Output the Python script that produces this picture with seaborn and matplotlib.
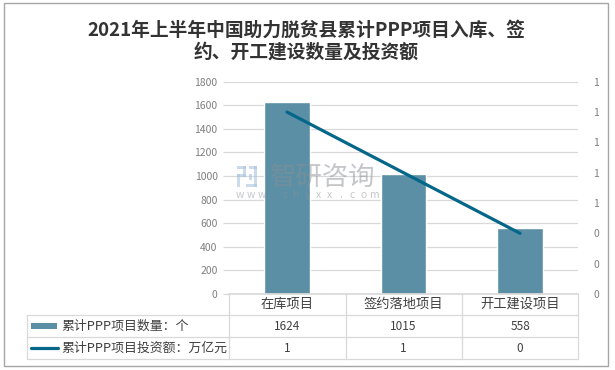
import pandas as pd
import matplotlib
matplotlib.use("Agg")
import matplotlib.pyplot as plt
import seaborn as sns
from matplotlib.ticker import MultipleLocator, FuncFormatter
from matplotlib.patches import Rectangle
from matplotlib import transforms

# data
categories = ["在库项目", "签约落地项目", "开工建设项目"]
project_count = [1624, 1015, 558]
investment = [1.2, 0.8, 0.4]  # 万亿元, labels in the chart are rounded
count_label = "累计PPP项目数量：个"
invest_label = "累计PPP项目投资额：万亿元"
title_lines = ["2021年上半年中国助力脱贫县累计PPP项目入库、签", "约、开工建设数量及投资额"]

bar_color = "#5b8fa6"
line_color = "#04678a"
grid_color = "#d9d9d9"
text_color = "#404040"

sns.set_theme(style="white")
plt.rcParams['font.family'] = ['Noto Sans CJK SC', 'DejaVu Sans']

W, H = 615, 370
fig = plt.figure(figsize=(6.15, 3.7), dpi=100)

# plot area in pixel units of the reference
left, right, top, bottom = 228.7, 578.3, 81.7, 294.0
ax = fig.add_axes([left / W, 1 - bottom / H, (right - left) / W, (bottom - top) / H])

df = pd.DataFrame({"cat": categories, "count": project_count, "inv": investment})

sns.barplot(data=df, x="cat", y="count", color=bar_color, width=0.39,
            saturation=1, ax=ax, zorder=2)
ax.set_xlim(-0.5, 2.5)
ax.set_ylim(0, 1800)
ax.yaxis.set_major_locator(MultipleLocator(200))
ax.grid(axis="y", color=grid_color, lw=0.9)
ax.set_axisbelow(True)
ax.set_xlabel("")
ax.set_ylabel("")
ax.set_xticks([])
for s in ["top", "right", "left"]:
    ax.spines[s].set_visible(False)
ax.spines["bottom"].set_color(grid_color)
ax.tick_params(axis="y", left=True, length=4, width=0.9, color=grid_color,
               labelcolor="#7f7f7f", labelsize=7.5, pad=4)

ax2 = ax.twinx()
sns.lineplot(data=df, x="cat", y="inv", color=line_color, lw=2.3, ax=ax2)
ax2.set_ylim(0, 1.4)
ax2.yaxis.set_major_locator(MultipleLocator(0.2))
ax2.yaxis.set_major_formatter(FuncFormatter(lambda v, p: f"{v:.0f}"))
ax2.set_ylabel("")
for s in ax2.spines.values():
    s.set_visible(False)
ax2.tick_params(axis="y", right=False, length=0, labelcolor="#7f7f7f",
                labelsize=7.5, pad=11)

# overlay in pixel coordinates for title, table, border
ov = fig.add_axes([0, 0, 1, 1], zorder=5)
ov.set_xlim(0, W)
ov.set_ylim(H, 0)
ov.axis("off")
ov.patch.set_alpha(0)

ov.add_patch(Rectangle((4, 2.5), 604, 363.5, fill=False, ec="#a6a6a6", lw=1))

ov.text(306, 30, title_lines[0], ha="center", va="center", fontsize=13.5,
        fontweight="bold", color="#333333")
ov.text(306, 52, title_lines[1], ha="center", va="center", fontsize=13.5,
        fontweight="bold", color="#333333")

# watermark (logo + text)
wm = dict(color="#8a8f94", alpha=0.5)
logo = dict(color="#a9c4e0", alpha=0.6, lw=0)
for (x0, y0, w, h) in [(237, 166, 9, 3), (243, 166, 3, 11), (237, 174, 9, 3),
                       (237, 174, 3, 13), (249, 166, 8, 3), (254, 166, 3, 21),
                       (246, 184, 11, 3), (249, 174, 3, 6)]:
    ov.add_patch(Rectangle((x0, y0), w, h, **logo))
ov.text(323, 177, "智研咨询", ha="center", va="center", fontsize=19, **wm)
for k, ch in enumerate("www.chyxx.com"):
    ov.text(240 + k * 11.2, 195, ch, ha="center", va="center", fontsize=7.5, **wm)

# data table
col_edges = [228.7, 345.7, 461.7, 578.3]
row_lines = [314.7, 337.3, 359.3]
for x in col_edges:
    ov.plot([x, x], [bottom, row_lines[-1]], color=grid_color, lw=0.9)
for y in row_lines:
    ov.plot([27.3, col_edges[-1]], [y, y], color=grid_color, lw=0.9)
ov.plot([27.3, 27.3], [row_lines[0], row_lines[-1]], color=grid_color, lw=0.9)

tr = transforms.blended_transform_factory(ax.transData, ov.transData)
for i, cat in enumerate(categories):
    ov.text(i, 304.5, cat, transform=tr, ha="center", va="center",
            fontsize=9.5, color=text_color)
    ov.text(i, 326, f"{project_count[i]}", transform=tr, ha="center",
            va="center", fontsize=8.5, color=text_color)
    ov.text(i, 348.3, f"{investment[i]:.0f}", transform=tr, ha="center",
            va="center", fontsize=8.5, color=text_color)

ov.add_patch(Rectangle((30.7, 322.7), 26.6, 6.7, color=bar_color, lw=0))
ov.plot([30.5, 57.5], [348.3, 348.3], color=line_color, lw=2.3,
        solid_capstyle="round")
ov.text(61.5, 326, count_label, ha="left", va="center", fontsize=9.3,
        color=text_color)
ov.text(61.5, 348.3, invest_label, ha="left", va="center", fontsize=9.3,
        color=text_color)

fig.savefig("out.png", dpi=100)
